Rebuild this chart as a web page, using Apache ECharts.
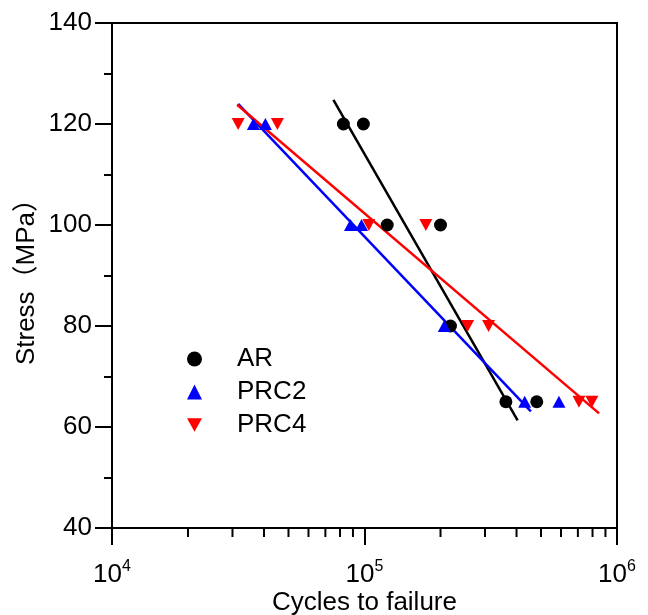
<!DOCTYPE html>
<html>
<head>
<meta charset="utf-8">
<style>
html,body{margin:0;padding:0;background:#fff;}
#chart{width:648px;height:615px;}
</style>
<script src="https://cdn.jsdelivr.net/npm/echarts@6/dist/echarts.min.js"></script>
</head>
<body>
<div id="chart"></div>
<script>
const seriesNames = ['AR', 'PRC2', 'PRC4'];
const arData = [[8.25e4,120],[9.9e4,120],[1.23e5,100],[2.0e5,100],[2.19e5,80],[3.63e5,65],[4.81e5,65]];
const prc2Data = [[3.63e4,120],[4.05e4,120],[8.8e4,100],[9.73e4,100],[2.07e5,80],[4.31e5,65],[5.89e5,65]];
const prc4Data = [[3.16e4,120],[4.52e4,120],[1.04e5,100],[1.75e5,100],[2.56e5,80],[3.1e5,80],[7.07e5,65],[7.95e5,65]];
const arFit = [[7.53e4,124.8],[4.04e5,61.3]];
const prc2Fit = [[3.16e4,124],[4.56e5,63.1]];
const prc4Fit = [[3.13e4,123.8],[8.49e5,62.7]];
const xMinorTicks = [2e4,3e4,4e4,5e4,6e4,7e4,8e4,9e4,2e5,3e5,4e5,5e5,6e5,7e5,8e5,9e5];
const yTicks = [40,60,80,100,120,140];

const FONT = "'Liberation Sans', Arial, 'Noto Sans CJK SC', sans-serif";
const FS = 26;
const chart = echarts.init(document.getElementById('chart'), null, {renderer:'canvas'});
const option = {
  backgroundColor: '#fff',
  animation: false,
  grid: {left: 112, right: 31, top: 23, bottom: 87, show: true, borderColor: '#000', borderWidth: 2, containLabel: false, outerBoundsMode: 'none'},
  legend: {
    data: seriesNames,
    orient: 'vertical',
    left: 182, top: 341,
    itemWidth: 15, itemHeight: 15, itemGap: 7,
    textStyle: {fontFamily: FONT, fontSize: FS, color: '#000', rich: {p: {fontFamily: FONT, fontSize: FS, color:'#000', padding: [0,0,0,30]}}},
    formatter: n => '{p|' + n + '}'
  },
  xAxis: {
    type: 'log', logBase: 10, min: 1e4, max: 1e6, interval: 1,
    name: 'Cycles to failure', nameLocation: 'middle', nameGap: 62, nameMoveOverlap: false,
    nameTextStyle: {fontFamily: FONT, fontSize: FS, color: '#000'},
    axisLine: {show: true, onZero: false, lineStyle: {color: '#000', width: 2}},
    axisTick: {show: true, inside: false, length: 17, lineStyle: {color: '#000', width: 2}},
    splitLine: {show: false},
    axisLabel: {
      margin: 31, color: '#000',
      formatter: v => '{b|10}{s|' + Math.round(Math.log10(v)) + '}',
      rich: {
        b: {fontFamily: FONT, fontSize: FS, color: '#000'},
        s: {fontFamily: FONT, fontSize: 16, color: '#000', padding: [0,0,16,0]}
      }
    }
  },
  yAxis: {
    type: 'value', min: 40, max: 140, interval: 20,
    name: 'Stress（MPa）', nameLocation: 'middle', nameGap: 72, nameRotate: 90, nameMoveOverlap: false,
    nameTextStyle: {fontFamily: FONT, fontSize: FS, color: '#000'},
    axisLine: {show: true, lineStyle: {color: '#000', width: 2}},
    axisTick: {show: true, inside: false, length: 17, lineStyle: {color: '#000', width: 2}},
    minorTick: {show: true, splitNumber: 2, length: 8, lineStyle: {color: '#000', width: 2}},
    splitLine: {show: false},
    axisLabel: {margin: 20, fontFamily: FONT, fontSize: FS, color: '#000'}
  },
  series: [
    {name: 'AR fit', type: 'line', data: arFit, symbol: 'none', lineStyle: {color: '#000', width: 2.5}, z: 2},
    {name: 'PRC2 fit', type: 'line', data: prc2Fit, symbol: 'none', lineStyle: {color: '#0000ff', width: 2.5}, z: 2},
    {name: 'PRC4 fit', type: 'line', data: prc4Fit, symbol: 'none', lineStyle: {color: '#ff0000', width: 2.5}, z: 2},
    {name: 'AR', type: 'scatter', data: arData, symbol: 'circle', symbolSize: 13, itemStyle: {color: '#000', opacity: 1}, z: 3},
    {name: 'PRC2', type: 'scatter', data: prc2Data, symbol: 'triangle', symbolSize: [13, 12], itemStyle: {color: '#0000ff', opacity: 1}, z: 3},
    {name: 'PRC4', type: 'scatter', data: prc4Data, symbol: 'path://M0,0 L10,0 L5,9 Z', symbolSize: [13, 12], itemStyle: {color: '#ff0000', opacity: 1}, z: 3},
    {
      name: 'minor', type: 'custom', silent: true, clip: false, z: 4,
      data: xMinorTicks.map(v => [v, 40]),
      renderItem: (params, api) => {
        const p = api.coord([api.value(0), api.value(1)]);
        return {type: 'line', shape: {x1: p[0], y1: p[1], x2: p[0], y2: p[1] + 9}, style: {stroke: '#000', lineWidth: 2}};
      }
    }
  ]
};
chart.setOption(option);
</script>
</body>
</html>
